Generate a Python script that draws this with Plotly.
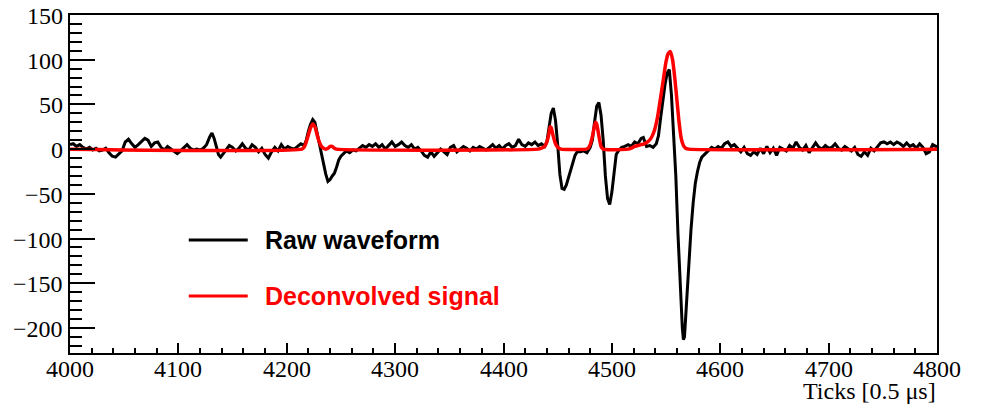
import plotly.graph_objects as go

# ---- data ----
raw_ticks = [4000,4003,4006,4009,4012,4015,4018,4021,4024,4027,4030,4033,4036,4039,4042,4045,4048,4051,4054,4057,
             4060,4063,4066,4069,4072,4075,4078,4081,4084,4087,4090,4093,4096,4099,4102,4105,4108,4111,4114,4117,
             4120,4123,4126,4129,4131,4133,4135,4137,4139,4141,4144,4147,4150,4153,4156,4159,4162,4165,4168,4171,
             4174,4177,4180,4183,4186,4189,4192,4195,4198,4201,4204,4207,4210,4213,4216,4218,4220,4222,4224,4226,
             4228,4230,4232,4234,4236,4238,4240,4242,4244,4246,4248,4250,4252,4255,4258,4261,4264,4267,4270,4273,
             4276,4279,4282,4285,4288,4291,4294,4297,4300,4303,4306,4309,4312,4315,4318,4321,4324,4327,4330,4333,
             4336,4339,4342,4345,4348,4351,4354,4357,4360,4363,4366,4369,4372,4375,4378,4381,4384,4387,4390,4393,
             4396,4399,4402,4405,4408,4411,4414,4417,4420,4423,4426,4429,4432,4435,4438,4440,4442,4444,4446,4448,
             4450,4452,4454,4456,4458,4460,4462,4464,4466,4468,4471,4474,4477,4480,4482,4484,4486,4488,4490,4492,
             4494,4496,4498,4500,4502,4504,4506,4509,4512,4515,4518,4521,4524,4527,4529,4532,4535,4538,4541,4543,
             4545,4547,4549,4551,4553,4555,4557,4559,4561,4563,4565,4566,4567,4569,4571,4573,4575,4577,4579,4581,
             4583,4586,4589,4592,4595,4598,4601,4604,4607,4610,4613,4616,4619,4622,4625,4628,4631,4634,4637,4640,
             4643,4646,4649,4652,4655,4658,4661,4664,4667,4670,4673,4676,4679,4682,4685,4688,4691,4694,4697,4700,
             4703,4706,4709,4712,4715,4718,4721,4724,4727,4730,4733,4736,4739,4742,4745,4748,4751,4754,4757,4760,
             4763,4766,4769,4772,4775,4778,4781,4784,4787,4790,4793,4796,4799,4800]
raw_values = [5,6,3,5,2,0,2,-1,1,-2,-1,1,-4,-8,-9,-6,-2,8,11,6,
              2,5,9,12,10,3,7,8,2,-1,3,0,-3,-5,-2,2,5,1,-1,0,
              -1,1,5,14,18,12,2,-6,-9,-6,-1,4,2,-2,1,6,1,-1,5,2,
              -3,1,-6,-10,-3,2,-2,5,0,3,1,0,3,6,4,10,20,28,33,30,
              18,6,-4,-16,-28,-36,-34,-30,-27,-20,-12,-8,-6,-2,-4,-1,-2,1,4,2,
              5,3,6,2,5,0,4,8,3,5,8,4,2,5,0,2,-2,-7,-9,-3,
              -8,-4,0,-3,-6,2,4,-3,0,3,1,-2,2,0,3,1,-1,2,5,1,
              4,0,4,6,2,4,11,5,3,7,5,8,4,6,3,8,25,40,46,32,
              5,-28,-44,-45,-40,-32,-24,-15,-7,-3,-3,-2,-4,2,10,30,48,52,38,10,
              -30,-55,-62,-48,-26,-6,-2,2,3,5,3,8,6,12,13,3,4,2,6,15,
              35,55,72,85,89,60,20,-30,-95,-150,-200,-213,-210,-170,-125,-90,-60,-38,-25,-15,
              -9,-5,-2,2,0,3,1,6,8,3,5,1,-3,2,-5,-7,-3,-6,1,-5,
              3,-4,1,-7,2,0,-2,4,1,8,2,-1,4,-4,2,7,2,0,4,1,
              2,6,1,-1,3,0,-2,2,-6,-8,-3,-7,1,-2,3,7,8,6,8,5,
              8,6,3,7,3,5,1,6,2,-5,-3,5,3,3]

dec_ticks = [4000,4214,4216,4218,4220,4222,4224,4226,4228,4230,4232,4234,4236,4238,4240,4242,4244,4246,
             4432,4435,4438,4440,4442,4443,4444,4446,4448,4450,4453,
             4476,4478,4480,4482,4484,4485,4486,4488,4490,4492,
             4515,4518,4521,4524,4527,4530,4533,4536,4539,4542,4545,4548,4550,4552,4554,4556,4558,4560,
             4562,4564,4566,4568,4571,4800]
dec_values = [0,0,2,8,16,24,28,25,16,8,3,1,0,1,3,3,1,0,
              0,1,3,8,18,25,24,14,6,2,0,
              0,1,5,14,26,30,28,15,3,0,
              0,1,3,4,5,6,8,12,20,35,58,82,98,107,109,100,80,55,
              30,12,4,1,0,0]

x_range = [4000, 4800]
y_range = [-228, 150]
x_tick_vals = [4000, 4100, 4200, 4300, 4400, 4500, 4600, 4700, 4800]
x_tick_text = ["4000", "4100", "4200", "4300", "4400", "4500", "4600", "4700", "4800"]
y_tick_vals = [150, 100, 50, 0, -50, -100, -150, -200]
y_tick_text = ["150", "100", "50", "0", "\u221250", "\u2212100", "\u2212150", "\u2212200"]
x_title = "Ticks [0.5 μs]"
legend_names = ["Raw waveform", "Deconvolved signal"]
colors = ["#000000", "#ff0000"]

fig = go.Figure()
fig.add_trace(go.Scatter(x=raw_ticks, y=raw_values, mode="lines",
                         line=dict(color=colors[0], width=3), name=legend_names[0]))
fig.add_trace(go.Scatter(x=dec_ticks, y=dec_values, mode="lines",
                         line=dict(color=colors[1], width=3.5, shape="spline", smoothing=0.6),
                         name=legend_names[1]))

serif = "Liberation Serif"
sans = "Liberation Sans"

fig.update_layout(
    template="none",
    width=981, height=407,
    margin=dict(l=70, r=44, t=15, b=54),
    paper_bgcolor="white", plot_bgcolor="white",
    font=dict(family=serif, size=24, color="black"),
    showlegend=False,
)
fig.update_xaxes(range=x_range, showgrid=False, zeroline=False, showline=True, mirror=True, automargin=False,
                 linecolor="black", linewidth=2, ticks="inside", ticklen=10, tickwidth=1.5,
                 tickcolor="black", tickvals=x_tick_vals, showticklabels=False,
                 minor=dict(ticks="inside", ticklen=5, tickwidth=1.5, tickcolor="black", dtick=20, showgrid=False))
fig.update_yaxes(range=y_range, showgrid=False, zeroline=False, showline=True, mirror=True, automargin=False,
                 linecolor="black", linewidth=2, ticks="inside", ticklen=25, tickwidth=1.5,
                 tickcolor="black", tickvals=y_tick_vals, showticklabels=False,
                 minor=dict(ticks="inside", ticklen=12, tickwidth=1.5, tickcolor="black", dtick=10, showgrid=False))

tick_font = dict(family=serif, size=24, color="black")
for v, t in zip(x_tick_vals, x_tick_text):
    fig.add_annotation(text=t, xref="x", yref="paper", x=v, y=0, xanchor="center", yanchor="middle",
                       yshift=-16, showarrow=False, font=tick_font)
for v, t in zip(y_tick_vals, y_tick_text):
    fig.add_annotation(text=t, xref="paper", yref="y", x=0, y=v, xanchor="right", yanchor="middle",
                       xshift=-5, yshift=-1, showarrow=False, font=tick_font)

# x-axis title, right aligned like ROOT
fig.add_annotation(text=x_title, xref="paper", yref="paper", x=1.0, y=0, xanchor="right", yanchor="top",
                   yshift=-23, xshift=1, showarrow=False, font=tick_font)

# legend drawn like the ROOT TLegend
leg_y = [0.334, 0.169]
for name, col, yy in zip(legend_names, colors, leg_y):
    fig.add_shape(type="line", xref="paper", yref="paper", x0=0.137, x1=0.205, y0=yy, y1=yy,
                  line=dict(color=col, width=3))
    fig.add_annotation(text="<b>" + name + "</b>", xref="paper", yref="paper", x=0.2226, y=yy,
                       xanchor="left", yanchor="middle", showarrow=False,
                       font=dict(family=sans, size=25, color=col))

fig.write_html("out.html")
